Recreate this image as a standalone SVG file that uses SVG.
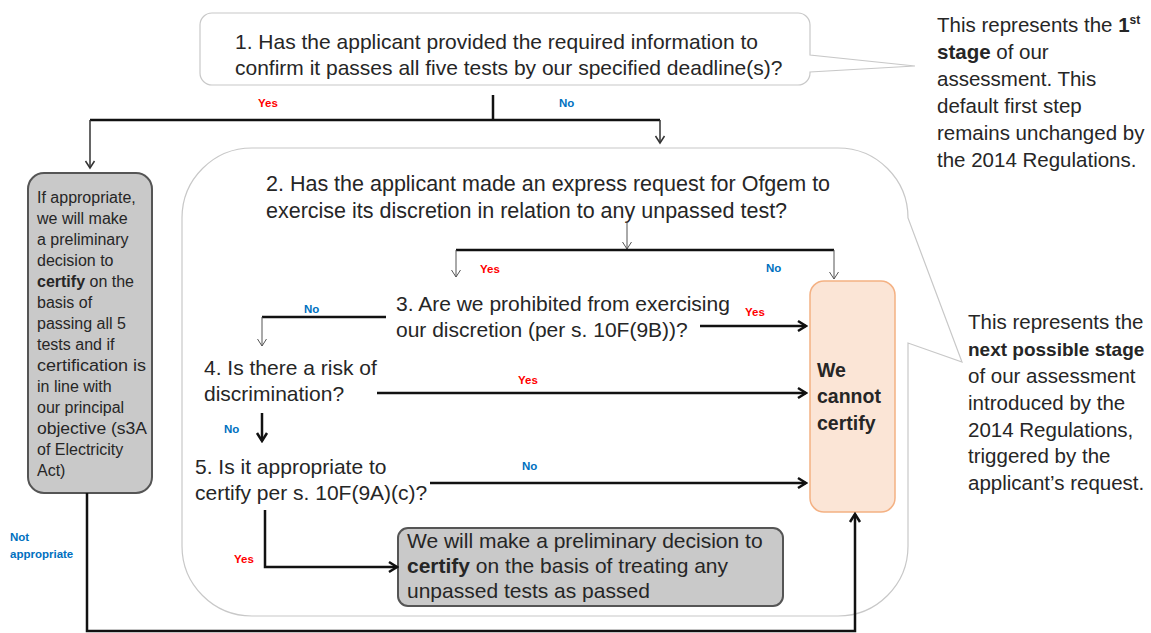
<svg xmlns="http://www.w3.org/2000/svg" width="1151" height="633" viewBox="0 0 1151 633">
<defs>
<style>
.t { font-family: "Liberation Sans", Arial, sans-serif; fill: #262626; }
.q { font-size: 21px; }
.q2 { font-size: 21.5px; }
.s { font-size: 16px; }
.r { font-size: 20.5px; }
.b { font-weight: bold; }
.ob { font-size: 19.5px; font-weight: bold; }
.lbl { font-family: "Liberation Sans", Arial, sans-serif; font-size: 11.5px; font-weight: bold; }
.yes { fill: #ff0000; }
.no { fill: #0070c0; }
.thick { stroke: #111; stroke-width: 2.5; fill: none; }
.med { stroke: #333; stroke-width: 1.5; fill: none; }
.thin { stroke: #555; stroke-width: 1; fill: none; }
.callout { fill: #ffffff; stroke: #c8c8c8; stroke-width: 1.2; }
.grey { fill: #c9c9c9; stroke: #555555; stroke-width: 2; }
.orange { fill: #fbe5d6; stroke: #f4b183; stroke-width: 1.5; }
</style>
<marker id="ahThick" markerUnits="userSpaceOnUse" markerWidth="14" markerHeight="14" viewBox="0 0 14 14" refX="12" refY="7" orient="auto">
<path d="M4,2 L12,7 L4,12" fill="none" stroke="#111" stroke-width="2.5"/>
</marker>
<marker id="ahMed" markerUnits="userSpaceOnUse" markerWidth="14" markerHeight="14" viewBox="0 0 14 14" refX="12" refY="7" orient="auto">
<path d="M5,2.5 L12,7 L5,11.5" fill="none" stroke="#333" stroke-width="1.5"/>
</marker>
<marker id="ahThin" markerUnits="userSpaceOnUse" markerWidth="14" markerHeight="14" viewBox="0 0 14 14" refX="12" refY="7" orient="auto">
<path d="M5,2.5 L12,7 L5,11.5" fill="none" stroke="#555" stroke-width="1"/>
</marker>
</defs>
<rect width="1151" height="633" fill="#ffffff"/>

<g id="stage2-callout">
<path class="callout" d="M252,148 L838,148 A70,70 0 0 1 908,218 L962,362 L908,343 L908,546 A70,70 0 0 1 838,616 L252,616 A70,70 0 0 1 182,546 L182,218 A70,70 0 0 1 252,148 Z"/>
</g>

<g id="q1">
<path class="callout" d="M212,13 L798,13 A12,12 0 0 1 810,25 L810,55 L915,66 L810,72 L810,73 A12,12 0 0 1 798,85 L212,85 A12,12 0 0 1 200,73 L200,25 A12,12 0 0 1 212,13 Z"/>
<text class="t q" x="235" y="49">1. Has the applicant provided the required information to</text>
<text class="t q" x="235" y="75">confirm it passes all five tests by our specified deadline(s)?</text>
</g>

<g id="note1">
<text class="t r" x="937" y="32">This represents the <tspan class="b">1</tspan><tspan class="b" font-size="12" dy="-8">st</tspan></text>
<text class="t r" x="937" y="59"><tspan class="b">stage</tspan> of our</text>
<text class="t r" x="937" y="86">assessment. This</text>
<text class="t r" x="937" y="113">default first step</text>
<text class="t r" x="937" y="140">remains unchanged by</text>
<text class="t r" x="937" y="167">the 2014 Regulations.</text>
</g>

<g id="note2">
<text class="t r" x="968" y="329">This represents the</text>
<text class="t b" font-size="19" x="968" y="356">next possible stage</text>
<text class="t r" x="968" y="383">of our assessment</text>
<text class="t r" x="968" y="410">introduced by the</text>
<text class="t r" x="968" y="437">2014 Regulations,</text>
<text class="t r" x="968" y="463">triggered by the</text>
<text class="t r" x="968" y="490">applicant’s request.</text>
</g>

<g id="certify-pass">
<rect class="grey" x="28" y="173" width="124" height="320" rx="16" ry="16"/>
<text class="t s" x="37" y="203">If appropriate,</text>
<text class="t s" x="37" y="224">we will make</text>
<text class="t s" x="37" y="245">a preliminary</text>
<text class="t s" x="37" y="266">decision to</text>
<text class="t s" x="37" y="287"><tspan class="b">certify</tspan> on the</text>
<text class="t s" x="37" y="308">basis of</text>
<text class="t s" x="37" y="329">passing all 5</text>
<text class="t s" x="37" y="350">tests and if</text>
<text class="t s" x="37" y="371" textLength="109" lengthAdjust="spacingAndGlyphs">certification is</text>
<text class="t s" x="37" y="392">in line with</text>
<text class="t s" x="37" y="413">our principal</text>
<text class="t s" x="37" y="434" textLength="110" lengthAdjust="spacingAndGlyphs">objective (s3A</text>
<text class="t s" x="37" y="455">of Electricity</text>
<text class="t s" x="37" y="476">Act)</text>
</g>

<g id="q2">
<text class="t q2" x="266" y="191">2. Has the applicant made an express request for Ofgem to</text>
<text class="t q2" x="266" y="218">exercise its discretion in relation to any unpassed test?</text>
</g>

<g id="q3">
<text class="t q" x="396" y="311">3. Are we prohibited from exercising</text>
<text class="t q" x="396" y="337">our discretion (per s. 10F(9B))?</text>
</g>

<g id="q4">
<text class="t q" x="204" y="375">4. Is there a risk of</text>
<text class="t q" x="204" y="401">discrimination?</text>
</g>

<g id="q5">
<text class="t q" x="195" y="474">5. Is it appropriate to</text>
<text class="t q" x="195" y="500">certify per s. 10F(9A)(c)?</text>
</g>

<g id="cannot-certify">
<rect class="orange" x="810" y="281" width="85" height="231" rx="14" ry="14"/>
<text class="t ob" x="817" y="377">We</text>
<text class="t ob" x="817" y="403">cannot</text>
<text class="t ob" x="817" y="430">certify</text>
</g>

<g id="certify-discretion">
<rect class="grey" x="398" y="528" width="385" height="78" rx="10" ry="10"/>
<text class="t q" x="407" y="548">We will make a preliminary decision to</text>
<text class="t q" x="407" y="573"><tspan class="b">certify</tspan> on the basis of treating any</text>
<text class="t q" x="407" y="598">unpassed tests as passed</text>
</g>

<g id="connectors">
<line class="thick" x1="493" y1="95" x2="493" y2="121"/>
<polyline class="thick" points="90,120 660,120"/>
<line class="med" x1="90" y1="120" x2="90" y2="168" marker-end="url(#ahMed)"/>
<line class="med" x1="660" y1="120" x2="660" y2="143" marker-end="url(#ahMed)"/>

<line class="thin" x1="627" y1="222" x2="627" y2="249" marker-end="url(#ahThin)"/>
<line class="thick" x1="456" y1="250" x2="834" y2="250"/>
<line class="thin" x1="456" y1="250" x2="456" y2="277" marker-end="url(#ahThin)"/>
<line class="thin" x1="834" y1="250" x2="834" y2="279" marker-end="url(#ahThin)"/>

<line class="thick" x1="386" y1="317" x2="262" y2="317"/>
<line class="thin" x1="262" y1="317" x2="262" y2="346" marker-end="url(#ahThin)"/>
<line class="thick" x1="700" y1="326" x2="806" y2="326" marker-end="url(#ahThick)"/>
<line class="thick" x1="377" y1="393" x2="806" y2="393" marker-end="url(#ahThick)"/>
<line class="thick" x1="262" y1="413" x2="262" y2="441" marker-end="url(#ahThick)"/>
<line class="thick" x1="430" y1="483" x2="806" y2="483" marker-end="url(#ahThick)"/>
<polyline class="thick" points="265,510 265,567 397,567" marker-end="url(#ahThick)"/>
<polyline class="thick" points="87,493 87,631 855,631 855,514" marker-end="url(#ahThick)"/>

<text class="lbl yes" x="258" y="107">Yes</text>
<text class="lbl no" x="559" y="107">No</text>
<text class="lbl yes" x="480" y="273">Yes</text>
<text class="lbl no" x="766" y="272">No</text>
<text class="lbl no" x="304" y="313">No</text>
<text class="lbl yes" x="745" y="316">Yes</text>
<text class="lbl yes" x="518" y="384">Yes</text>
<text class="lbl no" x="224" y="433">No</text>
<text class="lbl no" x="522" y="470">No</text>
<text class="lbl yes" x="234" y="563">Yes</text>
<text class="lbl no" x="10" y="541">Not</text>
<text class="lbl no" x="10" y="558">appropriate</text>
</g>
</svg>
